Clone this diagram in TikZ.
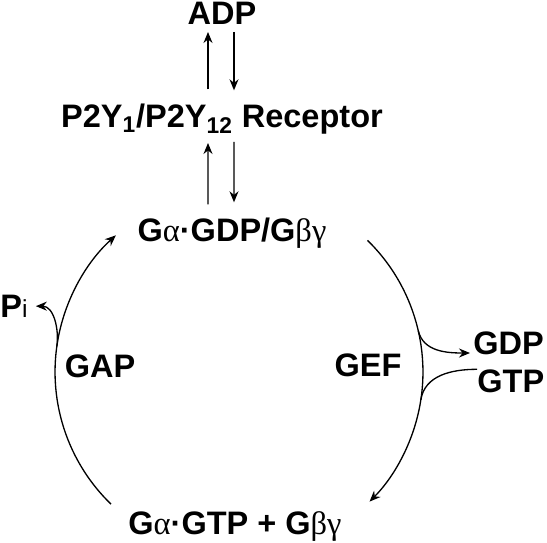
\documentclass[tikz,border=0pt]{standalone}
\usepackage{fontspec}
\setmainfont{Liberation Sans}
\newfontfamily\grk{Liberation Serif}
\usetikzlibrary{arrows.meta,calc}
\newcommand{\gk}[1]{{\grk\mdseries #1}}

\begin{document}
\begin{tikzpicture}[x=0.02cm,y=0.02cm,>={Stealth[length=2.2mm,width=1.8mm]},
  mol/.style={font=\fontsize{18.5}{22}\selectfont\bfseries,inner sep=0pt,text height=0.46cm,text depth=0pt,anchor=south},
  flow/.style={line width=0.75pt}]
\useasboundingbox (0,0) rectangle (547,-543);
% receptor stack
\node[mol] (adp) at (222,-25) {ADP};
\node[mol] (rec) at (222,-128) {P2Y\textsubscript{1}/P2Y\textsubscript{12} Receptor};
\node[mol] (gi) at (232,-242) {G\gk{α}·GDP/G\gk{βγ}};
% cycle
\node[mol] (ga) at (235,-535) {G\gk{α}·GTP + G\gk{βγ}};
\node[mol] (gap) at (100,-378) {GAP};
\node[mol] (gef) at (368,-377) {GEF};
\node[mol,anchor=south west] (gdp) at (473,-355) {GDP};
\node[mol,anchor=south west] (gtp) at (477,-393) {GTP};
\node[mol,anchor=south west] (pi) at (0,-318) {P{\mdseries\fontsize{14}{14}\selectfont i}};
\coordinate (cyc) at (239,-372);
\coordinate (r1) at ($(cyc)+(45.7:3.68cm)$);
\coordinate (l1) at ($(cyc)+(225.9:3.68cm)$);
\coordinate (b1) at ($(cyc)+(13:3.68cm)$);
\coordinate (b2) at ($(cyc)+(-8.7:3.68cm)$);
\coordinate (b3) at ($(cyc)+(172:3.68cm)$);
\draw[flow,->,shorten <=0.3cm,shorten >=0.14cm] ([xshift=-0.28cm]rec.north) -- ([xshift=-0.28cm]adp.south);
\draw[flow,->,shorten <=0.14cm,shorten >=0.28cm] ([xshift=0.24cm]adp.south) -- ([xshift=0.24cm]rec.north);
\draw[flow,->,shorten <=0.28cm,shorten >=0.3cm] ([xshift=-0.48cm]gi.north) -- ([xshift=-0.28cm]rec.south);
\draw[flow,->,shorten <=0.28cm,shorten >=0.32cm] ([xshift=0.24cm]rec.south) -- ([xshift=0.04cm]gi.north);
\draw[flow,->] (r1) arc[start angle=45.7,end angle=-44.8,radius=3.68cm];
\draw[flow,->] (l1) arc[start angle=225.9,end angle=132,radius=3.68cm];
\draw[flow,->] (b1) to[out=-77,in=180] ([xshift=-0.06cm,yshift=0.04cm]gdp.south west);
\draw[flow] (gtp.north west) to[out=180,in=81] (b2);
\draw[flow,->] (b3) to[out=82,in=0] ([xshift=0.16cm]pi.east);
\end{tikzpicture}
\end{document}
